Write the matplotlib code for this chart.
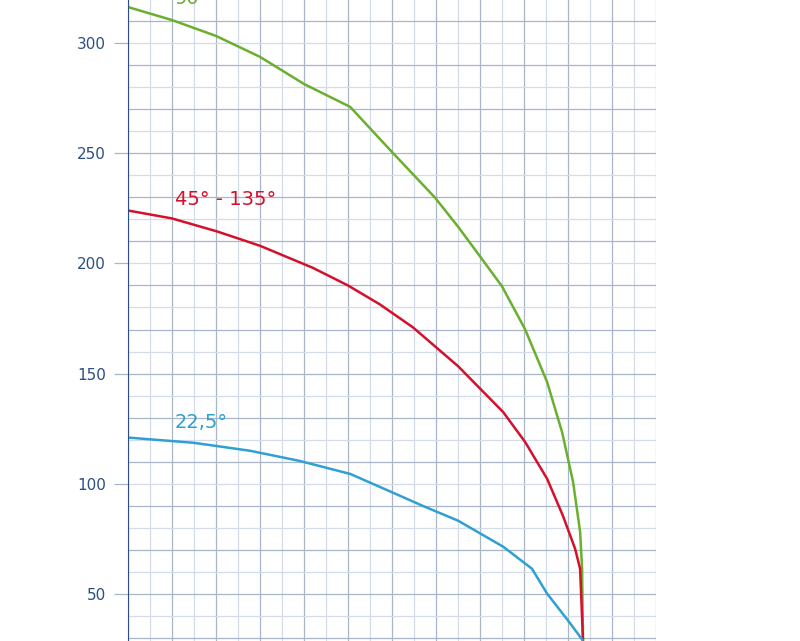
import matplotlib

matplotlib.use("Agg")

import matplotlib.pyplot as plt
import numpy as np

# curve points (x in grid units, y in chart units)
green_x = [0, 20, 40, 60, 80, 101, 119, 139.5, 150, 160, 170, 180.5, 190.5, 197.3, 202.3, 205.5, 206.4, 206.8]
green_y = [316.3, 310.4, 303.2, 293.7, 281.4, 271, 251.6, 229.9, 216.7, 203.2, 189.6, 170.1, 146.2, 123.5, 100.9, 78.3, 61.5, 29.4]
red_x = [0, 20, 40.5, 60, 84, 100, 114.5, 129.5, 150, 170.5, 180.5, 190.5, 197.7, 203.2, 205.5, 206.8]
red_y = [224, 220.4, 214.5, 208, 198, 190, 181.4, 171, 153.4, 132.6, 119, 102.3, 85.5, 70.6, 61.5, 29.4]
blue_x = [0, 30, 55.5, 78, 101, 114.5, 134, 150, 170.5, 183.6, 190.5, 201, 206.4]
blue_y = [121, 118.6, 115, 110.4, 104.5, 98.6, 90, 83.3, 71.5, 61.5, 50.2, 36.7, 29.4]

label_texts = ["90°", "45° - 135°", "22,5°"]
label_y = [317.5, 226.3, 125.3]
colors = ["#6aaf2e", "#d5102b", "#2fa0d2"]
y_ticks = [50, 100, 150, 200, 250, 300]

fig = plt.figure(figsize=(8, 6.41), dpi=100)
ax = fig.add_axes([128 / 800, 0, (656 - 128) / 800, 1])
ax.set_xlim(0, 240)
ax.set_ylim(28.7, 319.5)

for v in np.arange(0, 241, 10):
    major = v % 20 == 0
    ax.axvline(v, color="#a9b6c8" if major else "#d3dce8", lw=0.9, zorder=0)
for v in np.arange(30, 320, 10):
    major = v % 20 == 10
    ax.axhline(v, color="#a9b6c8" if major else "#d3dce8", lw=0.9, zorder=0)

for xs, ys, c in zip([green_x, red_x, blue_x], [green_y, red_y, blue_y], colors):
    ax.plot(xs, ys, color=c, lw=1.8, solid_joinstyle="round")

for t, y, c in zip(label_texts, label_y, colors):
    ax.text(21.4, y, t, color=c, fontsize=14, va="baseline", clip_on=False)

ax.set_xticks([])
ax.set_yticks(y_ticks)
ax.tick_params(axis="y", colors="#a9b6c8", labelcolor="#2c4f85", labelsize=11, length=10, width=0.9, pad=6)
for s in ["top", "right", "bottom"]:
    ax.spines[s].set_visible(False)
ax.spines["left"].set_color("#2c4f85")

fig.savefig("out.png")
